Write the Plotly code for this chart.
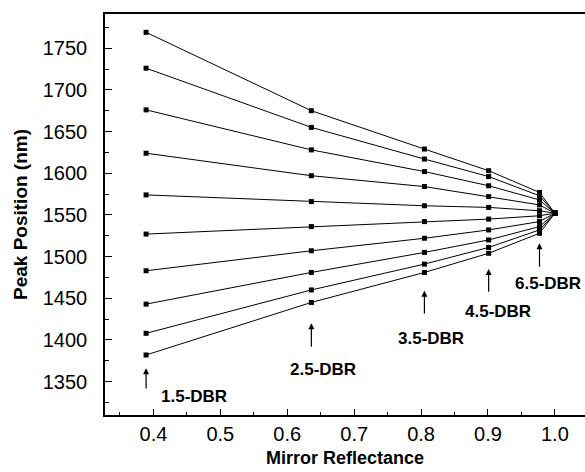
import plotly.graph_objects as go

# Mirror reflectance of each DBR column (last = ideal mirror, R = 1)
reflectance = [0.389, 0.636, 0.805, 0.901, 0.977, 1.0]
dbr_labels = ["1.5-DBR", "2.5-DBR", "3.5-DBR", "4.5-DBR", "6.5-DBR"]

# Peak positions (nm) read per column, top series to bottom series
peaks_15 = [1769, 1726, 1676, 1624, 1574, 1527, 1483, 1443, 1408, 1382]
peaks_25 = [1675, 1655, 1628, 1597, 1566, 1536, 1507, 1481, 1460, 1445]
peaks_35 = [1629, 1617, 1602, 1584, 1561, 1542, 1522, 1505, 1491, 1481]
peaks_45 = [1603, 1596, 1585, 1572, 1559, 1545, 1532, 1520, 1511, 1504]
peaks_65 = [1577, 1573, 1568, 1562, 1555, 1549, 1542, 1536, 1532, 1528]
peaks_r1 = [1552, 1552, 1552, 1552, 1552, 1552, 1552, 1552, 1552, 1552]

columns = [peaks_15, peaks_25, peaks_35, peaks_45, peaks_65, peaks_r1]

fig = go.Figure()
for i in range(len(peaks_15)):
    fig.add_trace(go.Scatter(
        x=reflectance,
        y=[col[i] for col in columns],
        mode="lines+markers",
        line=dict(color="black", width=1),
        marker=dict(symbol="square", size=5, color="black"),
        showlegend=False,
    ))

# arrows (tip, tail) and labels, in data coordinates
arrow_specs = [
    (reflectance[0], 1366, 1340),
    (reflectance[1], 1420, 1390),
    (reflectance[2], 1459, 1430),
    (reflectance[3], 1485, 1456),
    (reflectance[4], 1516, 1486),
]
label_pos = [(0.461, 1332), (0.653, 1364), (0.815, 1402), (0.915, 1434), (0.989, 1468)]

for (x, tip, tail) in arrow_specs:
    fig.add_annotation(x=x, y=tip, ax=x, ay=tail, xref="x", yref="y",
                       axref="x", ayref="y", text="", showarrow=True,
                       arrowhead=2, arrowsize=1, arrowwidth=1.2, arrowcolor="black")
for lab, (x, y) in zip(dbr_labels, label_pos):
    fig.add_annotation(x=x, y=y, xref="x", yref="y", text="<b>%s</b>" % lab,
                       showarrow=False, font=dict(family="Liberation Sans", size=17, color="black"))

fig.update_layout(
    width=585, height=472,
    margin=dict(l=105, r=0, t=14, b=57),
    paper_bgcolor="white", plot_bgcolor="white",
    font=dict(family="Liberation Sans", color="black"),
    xaxis=dict(
        range=[0.3276, 1.045],
        tickvals=[0.4, 0.5, 0.6, 0.7, 0.8, 0.9, 1.0],
        ticktext=["0.4", "0.5", "0.6", "0.7", "0.8", "0.9", "1.0"],
        ticks="inside", ticklen=6, tickwidth=1.3, tickcolor="black",
        minor=dict(ticks="inside", ticklen=3, tickwidth=1, tickcolor="black", dtick=0.05, tick0=0.35),
        showline=True, linecolor="black", linewidth=1.5, mirror=True,
        showgrid=False, zeroline=False,
        tickfont=dict(size=20, family="Liberation Sans"),
        title=dict(text="<b>Mirror Reflectance</b>", font=dict(size=18, family="Liberation Sans"), standoff=8),
    ),
    yaxis=dict(
        range=[1310, 1791],
        tickvals=[1350, 1400, 1450, 1500, 1550, 1600, 1650, 1700, 1750],
        ticks="inside", ticklen=7, tickwidth=1.3, tickcolor="black",
        minor=dict(ticks="inside", ticklen=4, tickwidth=1, tickcolor="black", dtick=25, tick0=1325),
        showline=True, linecolor="black", linewidth=1.5,
        showgrid=False, zeroline=False,
        ticklabelstandoff=12,
        tickfont=dict(size=20, family="Liberation Sans"),
        title=dict(text="<b>Peak Position (nm)</b>", font=dict(size=19, family="Liberation Sans"), standoff=10),
    ),
)

fig.write_html("out.html")
